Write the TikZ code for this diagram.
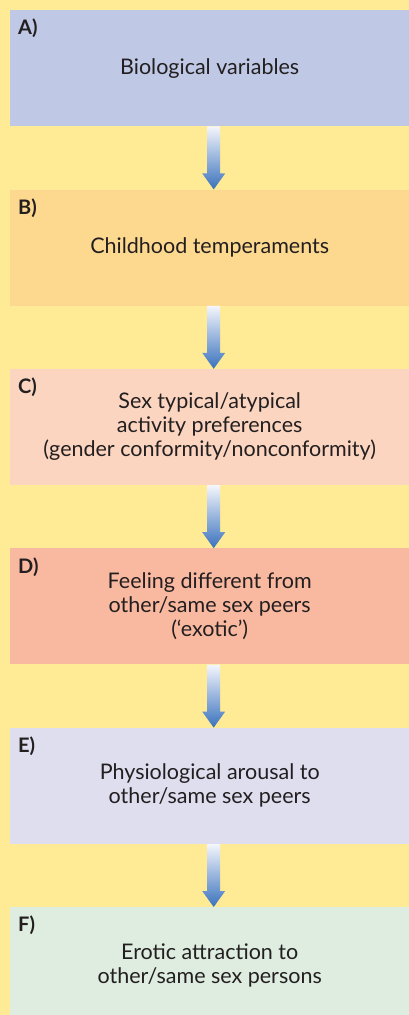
\documentclass[tikz,border=0pt]{standalone}
\usepackage{fontspec}
\setmainfont{Lato}
\definecolor{ftInk}{HTML}{231F20}
\definecolor{ftYellow}{HTML}{FFEB95}
\definecolor{ftBlueBox}{HTML}{BFC9E6}
\definecolor{ftAmber}{HTML}{FDD98F}
\definecolor{ftPeach}{HTML}{FBD5C0}
\definecolor{ftSalmon}{HTML}{F9B9A0}
\definecolor{ftLilac}{HTML}{DFDEEF}
\definecolor{ftMint}{HTML}{DEEDE0}
\definecolor{ftArrTop}{HTML}{F4F6FC}
\definecolor{ftArrow}{HTML}{3A72BD}
\usetikzlibrary{positioning,calc}

% fat shaded arrow from the bottom of one box to the top of the next
\newcommand{\fatarrow}[2]{%
  \shade[top color=ftArrTop,bottom color=ftArrow]
    ($(#1.south)+(-2.5pt,0)$) -- ($(#1.south)+(10.5pt,0)$)
    -- ($(#2.north)+(10.5pt,16pt)$) -- ($(#2.north)+(15.5pt,16pt)$)
    -- ($(#2.north)+(4pt,0)$)
    -- ($(#2.north)+(-7.5pt,16pt)$) -- ($(#2.north)+(-2.5pt,16pt)$) -- cycle;}

\begin{document}
\begin{tikzpicture}[
  font=\fontsize{21.5}{24}\selectfont,
  box/.style={minimum width=399pt,minimum height=116pt,inner sep=0pt,
              align=center,text=ftInk},
  tag/.style={anchor=north west,inner sep=0pt,font=\fontsize{20}{22}\selectfont\bfseries,text=ftInk}
]
\clip (0,0) rectangle (409pt,-1015pt);
\fill[ftYellow] (0,0) rectangle (409pt,-1015pt);

\node[box,fill=ftBlueBox,anchor=north west] (bio) at (10pt,-10pt) {Biological variables};
\node[box,fill=ftAmber,below=63pt of bio] (temp) {Childhood temperaments};
\node[box,fill=ftPeach,below=63pt of temp] (activ) {Sex typical/atypical\\activity preferences\\(gender conformity/nonconformity)};
\node[box,fill=ftSalmon,below=63pt of activ] (diff) {Feeling different from\\other/same sex peers\\(‘exotic’)};
\node[box,fill=ftLilac,below=63pt of diff] (arous) {Physiological arousal to\\other/same sex peers};
\node[box,fill=ftMint,below=63pt of arous] (erot) {Erotic attraction to\\other/same sex persons};

\node[tag] (tagA) at ($(bio.north west)+(8pt,-9pt)$) {A)};
\node[tag] (tagB) at ($(temp.north west)+(8pt,-9pt)$) {B)};
\node[tag] (tagC) at ($(activ.north west)+(8pt,-9pt)$) {C)};
\node[tag] (tagD) at ($(diff.north west)+(8pt,-9pt)$) {D)};
\node[tag] (tagE) at ($(arous.north west)+(8pt,-9pt)$) {E)};
\node[tag] (tagF) at ($(erot.north west)+(8pt,-9pt)$) {F)};

\fatarrow{bio}{temp}
\fatarrow{temp}{activ}
\fatarrow{activ}{diff}
\fatarrow{diff}{arous}
\fatarrow{arous}{erot}
\end{tikzpicture}
\end{document}
